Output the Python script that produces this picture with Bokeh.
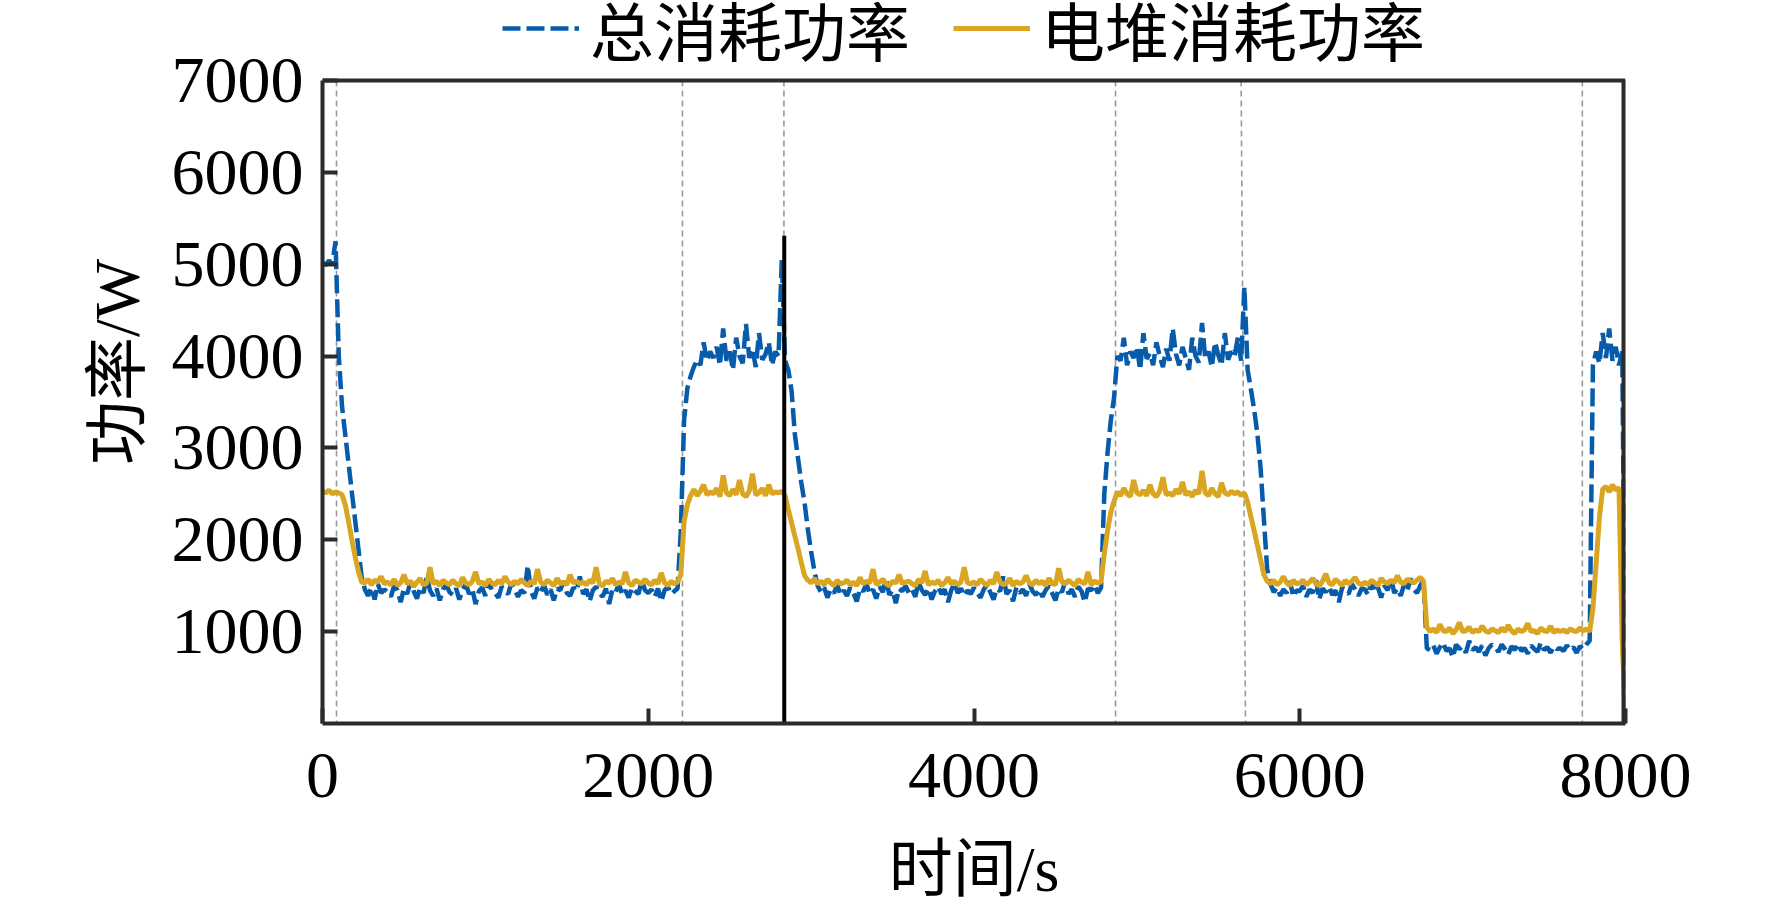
from bokeh.plotting import figure
from bokeh.models import Legend, LegendItem, FixedTicker
from bokeh.embed import file_html
from bokeh.resources import INLINE

# ---------------- data ----------------
sample_step = 20
time_s = list(range(0, 8001, sample_step))

total_power = [
    5020, 4990, 5040, 5000, 5250, 4000, 3450, 3140, 2830, 2520, 2220, 1910, 1600, 1460, 1390, 1480, 1350, 1520, 1420, 1460,
    1430, 1380, 1500, 1450, 1320, 1470, 1410, 1540, 1440, 1360, 1480, 1420, 1600, 1450, 1390, 1470, 1340, 1460, 1510, 1430,
    1400, 1470, 1350, 1450, 1520, 1410, 1460, 1300, 1440, 1480, 1390, 1560, 1450, 1420, 1370, 1490, 1440, 1410, 1530, 1460,
    1380, 1450, 1420, 1720, 1440, 1360, 1480, 1430, 1510, 1400, 1460, 1340, 1470, 1450, 1550, 1420, 1390, 1480, 1440, 1600,
    1410, 1460, 1330, 1450, 1490, 1420, 1380, 1470, 1300, 1460, 1430, 1520, 1400, 1450, 1370, 1480, 1440, 1410, 1560, 1450,
    1420, 1460, 1380, 1470, 1330, 1450, 1490, 1410, 1440, 1470, 2100, 3300, 3650, 3780, 3880, 3960, 3900, 4150, 3950, 4050,
    3980, 4100, 3900, 4300, 3950, 4050, 3850, 4200, 4000, 3920, 4350, 3980, 4080, 3880, 4250, 3960, 4020, 4150, 3900, 4050,
    4000, 5050, 3950, 3850, 3620, 3150, 2880, 2620, 2400, 2110, 1870, 1660, 1500, 1430, 1480, 1370, 1460, 1420, 1510, 1400,
    1450, 1390, 1480, 1420, 1330, 1470, 1440, 1520, 1410, 1460, 1360, 1490, 1430, 1580, 1400, 1450, 1310, 1470, 1440, 1500,
    1420, 1460, 1380, 1540, 1450, 1400, 1470, 1350, 1440, 1490, 1410, 1460, 1320, 1450, 1530, 1420, 1470, 1390, 1450, 1410,
    1480, 1420, 1370, 1460, 1510, 1430, 1350, 1470, 1440, 1600, 1410, 1450, 1330, 1480, 1420, 1460, 1390, 1520, 1440, 1400,
    1460, 1380, 1450, 1500, 1420, 1340, 1470, 1430, 1550, 1410, 1460, 1380, 1490, 1440, 1320, 1470, 1450, 1510, 1420, 1480,
    2500, 2950, 3300, 3550, 4000, 3950, 4200, 3900, 4050, 3980, 4100, 3850, 4250, 3970, 4030, 3900, 4150, 4000, 3880, 4080,
    3950, 4300, 4020, 3900, 4100, 3980, 3850, 4200, 4000, 3930, 4360, 3970, 4050, 3880, 4150, 4010, 3900, 4250, 3960, 4050,
    4000, 4200, 3950, 4750, 3850, 3640, 3420, 3150, 2770, 2220, 1680, 1520, 1430, 1480, 1390, 1460, 1420, 1550, 1380, 1450,
    1440, 1500, 1380, 1460, 1420, 1560, 1350, 1470, 1430, 1490, 1400, 1450, 1320, 1480, 1440, 1410, 1520, 1460, 1390, 1470,
    1460, 1400, 1550, 1430, 1480, 1370, 1500, 1450, 1600, 1420, 1470, 1390, 1510, 1440, 1580, 1460, 1420, 1500, 1560, 820,
    800, 850, 760, 830, 880, 790, 820, 720, 860, 810, 840, 770, 900, 800, 830, 780, 850, 740, 820, 860,
    830, 780, 860, 810, 750, 840, 800, 870, 790, 820, 760, 850, 810, 780, 880, 800, 830, 770, 840, 810,
    820, 790, 850, 800, 830, 770, 840, 810, 860, 900, 3900, 4050, 3920, 4250, 3980, 4300, 3950, 4100, 3900, 4050,
    100,
]

stack_power = [
    2530, 2510, 2540, 2500, 2520, 2510, 2490, 2380, 2200, 2000, 1820, 1660, 1540, 1530, 1570, 1510, 1560, 1540, 1600, 1520,
    1540, 1510, 1570, 1500, 1530, 1620, 1520, 1550, 1490, 1540, 1580, 1510, 1530, 1700, 1520, 1550, 1500, 1560, 1530, 1510,
    1560, 1520, 1500, 1590, 1530, 1510, 1550, 1650, 1520, 1540, 1500, 1570, 1530, 1510, 1560, 1520, 1600, 1540, 1510, 1550,
    1520, 1570, 1530, 1500, 1550, 1520, 1680, 1540, 1510, 1560, 1530, 1500, 1580, 1520, 1540, 1510, 1620, 1530, 1550, 1520,
    1540, 1510, 1560, 1530, 1700, 1520, 1500, 1550, 1530, 1580, 1510, 1540, 1520, 1650, 1530, 1500, 1560, 1540, 1520, 1570,
    1530, 1510, 1560, 1520, 1640, 1530, 1500, 1550, 1520, 1540, 1620, 2200, 2380, 2480, 2550, 2480, 2530, 2600, 2490, 2520,
    2500, 2560, 2470, 2700, 2510, 2480, 2550, 2490, 2650, 2500, 2470, 2530, 2720, 2490, 2510, 2560, 2480, 2600, 2500, 2520,
    2510, 2530, 2480, 2330, 2185, 2040, 1900, 1750, 1610, 1560, 1530, 1580, 1520, 1550, 1510, 1570, 1530, 1500, 1560, 1520,
    1530, 1560, 1510, 1540, 1500, 1590, 1520, 1550, 1530, 1680, 1510, 1540, 1570, 1520, 1500, 1550, 1530, 1620, 1520, 1540,
    1550, 1520, 1500, 1570, 1530, 1660, 1510, 1540, 1520, 1560, 1500, 1530, 1590, 1520, 1550, 1510, 1540, 1700, 1530, 1520,
    1540, 1510, 1570, 1530, 1500, 1560, 1520, 1650, 1540, 1510, 1530, 1580, 1500, 1550, 1520, 1540, 1610, 1530, 1510, 1560,
    1520, 1550, 1500, 1580, 1530, 1510, 1690, 1540, 1520, 1560, 1530, 1500, 1570, 1540, 1520, 1650, 1510, 1550, 1530, 1540,
    1850, 2100, 2300, 2420, 2520, 2480, 2560, 2500, 2470, 2650, 2510, 2490, 2540, 2480, 2600, 2500, 2470, 2530, 2680, 2490,
    2510, 2480, 2550, 2500, 2630, 2490, 2520, 2470, 2540, 2500, 2750, 2510, 2480, 2560, 2500, 2470, 2620, 2510, 2490, 2530,
    2500, 2520, 2480, 2510, 2410, 2250, 2100, 1940, 1780, 1620, 1550, 1520, 1560, 1510, 1540, 1600, 1530, 1500, 1560, 1520,
    1530, 1560, 1510, 1540, 1580, 1520, 1500, 1550, 1630, 1530, 1510, 1570, 1540, 1500, 1560, 1520, 1550, 1590, 1530, 1510,
    1540, 1510, 1560, 1530, 1500, 1580, 1540, 1520, 1560, 1530, 1610, 1540, 1520, 1570, 1550, 1530, 1560, 1590, 1550, 1050,
    1000, 1030, 990, 1080, 1010, 1000, 1040, 980, 1020, 1100, 1000, 1010, 1050, 990, 1020, 1000, 1060, 1010, 990, 1030,
    1010, 990, 1040, 1000, 1070, 1010, 980, 1030, 1000, 1020, 1090, 1000, 1010, 980, 1040, 1010, 1000, 1060, 990, 1020,
    1000, 1020, 990, 1030, 1010, 1000, 1040, 1010, 1030, 1000, 1250, 1750, 2250, 2550, 2580, 2520, 2600, 2540, 2570, 900,
    0,
]

# event marker lines (time at top of frame, time at bottom of frame)
marker_t_top = [86, 2210, 2833, 4869, 5640, 7735]
marker_t_bottom = [86, 2210, 2833, 4869, 5667, 7735]
# solid black marker line
black_marker_t = [2835]
black_marker_top = [5310]

x_ticks = [0, 2000, 4000, 6000, 8000]
y_ticks = [1000, 2000, 3000, 4000, 5000, 6000, 7000]
x_limits = (0, 8000)
y_limits = (0, 7000)

series_names = ["总消耗功率", "电堆消耗功率"]
x_title = "时间/s"
y_title = "功率/W"

BLUE = "#065BAA"
GOLD = "#DAA520"
AXIS = "#2b2b2b"
LATIN = "Liberation Serif"
MIXED = "'Liberation Serif', 'Noto Sans CJK SC'"

# layout (pixels): the frame is extended upward so the legend can sit above the box
BOX_H = 643          # height of the drawn box (0..7000)
HEAD_H = 80          # strip above the box holding the legend
FRAME_H = BOX_H + HEAD_H
y_view_top = y_limits[1] * FRAME_H / BOX_H

p = figure(
    frame_width=1303, frame_height=FRAME_H,
    min_border_left=322, min_border_right=131, min_border_top=0, min_border_bottom=178,
    x_range=x_limits, y_range=(y_limits[0], y_view_top),
    output_backend="svg", toolbar_location=None,
)
p.background_fill_color = "white"
p.border_fill_color = "white"
p.outline_line_color = None
p.xgrid.visible = False
p.ygrid.visible = False

n_markers = len(marker_t_top)
p.segment(x0=marker_t_top, y0=[y_limits[1]] * n_markers,
          x1=marker_t_bottom, y1=[y_limits[0]] * n_markers,
          line_color="#9a9a9a", line_width=1.6, line_dash="6 4")

r_total = p.line(time_s, total_power, line_color=BLUE, line_width=4.5, line_dash="18 6")
r_stack = p.line(time_s, stack_power, line_color=GOLD, line_width=5)

p.segment(x0=black_marker_t, y0=[0] * len(black_marker_t),
          x1=black_marker_t, y1=black_marker_top,
          line_color="black", line_width=4)

# top and right sides of the box
p.segment(x0=[x_limits[0]], y0=[y_limits[1]], x1=[x_limits[1]], y1=[y_limits[1]],
          line_color=AXIS, line_width=4)
p.segment(x0=[x_limits[1]], y0=[y_limits[0]], x1=[x_limits[1]], y1=[y_limits[1]],
          line_color=AXIS, line_width=8)

for ax in (p.xaxis[0], p.yaxis[0]):
    ax.axis_line_color = AXIS
    ax.axis_line_width = 4
    ax.major_tick_line_color = AXIS
    ax.major_tick_line_width = 4
    ax.major_tick_in = 15
    ax.major_tick_out = 0
    ax.minor_tick_line_color = None
    ax.major_label_text_font = LATIN
    ax.major_label_text_font_size = "66px"
    ax.major_label_text_color = "black"
    ax.axis_label_text_font = MIXED
    ax.axis_label_text_font_size = "64px"
    ax.axis_label_text_font_style = "normal"
    ax.axis_label_text_color = "black"

p.yaxis.bounds = y_limits
p.xaxis.ticker = FixedTicker(ticks=x_ticks)
p.yaxis.ticker = FixedTicker(ticks=y_ticks)
p.xaxis.axis_label = x_title
p.yaxis.axis_label = y_title
p.xaxis.major_label_standoff = 30
p.xaxis.axis_label_standoff = 34
p.yaxis.major_label_standoff = 19
p.yaxis.axis_label_standoff = 16

legend = Legend(
    items=[LegendItem(label=series_names[0], renderers=[r_total]),
           LegendItem(label=series_names[1], renderers=[r_stack])],
    orientation="horizontal", location=(180, FRAME_H - 74),
    label_text_font=MIXED, label_text_font_size="64px",
    label_text_color="black",
    glyph_width=77, glyph_height=40, label_standoff=11, spacing=43,
    padding=0, margin=0, border_line_color=None, background_fill_alpha=0,
)
p.add_layout(legend)

open("out.html", "w").write(file_html(p, INLINE))
